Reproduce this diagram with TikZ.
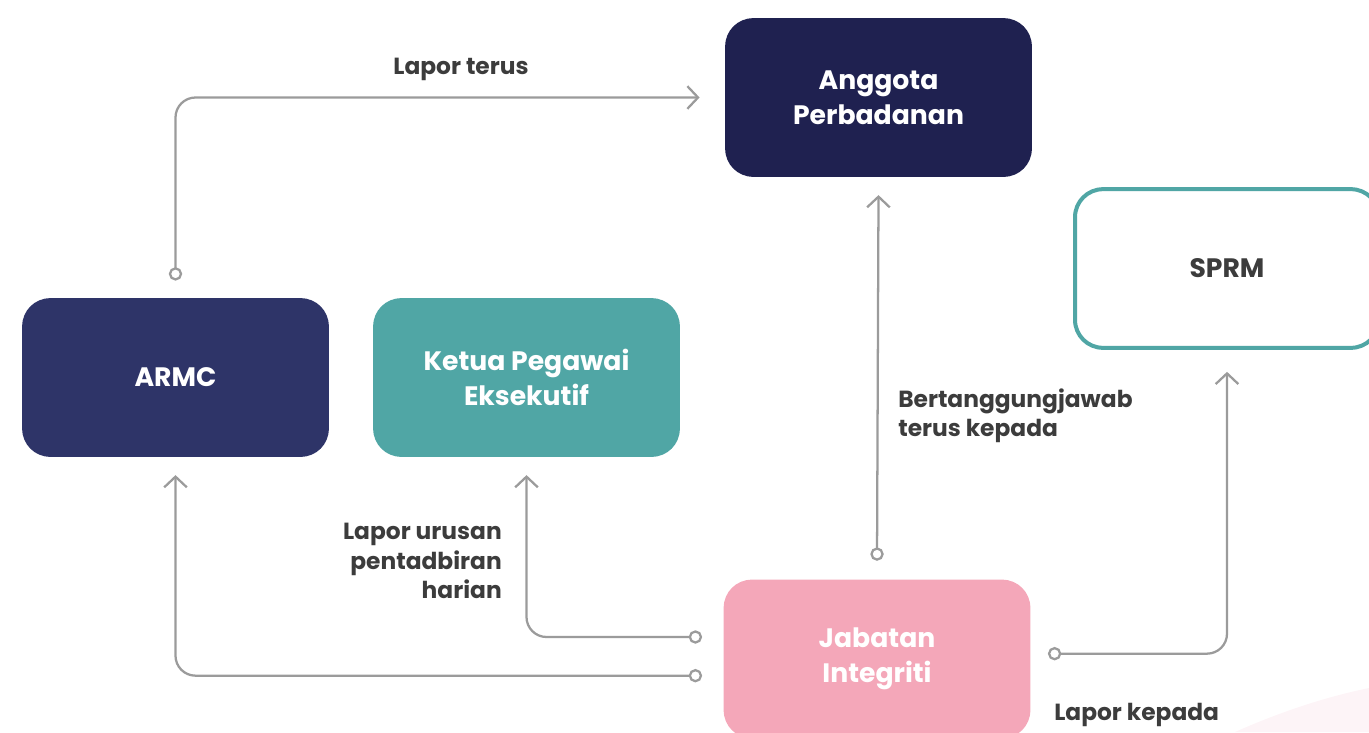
\documentclass[tikz,border=0pt]{standalone}
\usepackage{fontspec}
\setmainfont{Poppins}
\usetikzlibrary{arrows.meta}
\definecolor{navyA}{HTML}{1F2150}
\definecolor{navyB}{HTML}{2E3468}
\definecolor{tealc}{HTML}{50A6A5}
\definecolor{pinkc}{HTML}{F4A7B9}
\definecolor{linegrey}{HTML}{9B9B9B}
\definecolor{labgrey}{HTML}{3C3C3C}
\definecolor{bgpink}{HTML}{FDF4F7}

\begin{document}
\begin{tikzpicture}[x=.75pt,y=-.75pt,
 box/.style={rounded corners=21pt,minimum width=230pt,minimum height=119pt,align=center,text=white,font=\fontsize{20}{26.5}\selectfont\bfseries},
 link/.style={draw=linegrey,line width=1.7pt,rounded corners=15pt,{Circle[open,length=10pt,width=10pt]}-{Straight Barb[length=8pt,width=17pt]}},
 lab/.style={text=labgrey,font=\fontsize{17.5}{22}\selectfont\bfseries,inner sep=0pt}]
\useasboundingbox (0,0) rectangle (1369,732);
\fill[bgpink] (1235,732) .. controls (1280,712) and (1325,697) .. (1369,688) -- (1369,732) -- cycle;
% boxes
\node[box,fill=navyA] (anggota) at (878.5,97.5) {Anggota\\Perbadanan};
\node[box,fill=navyB] (armc) at (175.5,377.5) {ARMC};
\node[box,fill=tealc] (ketua) at (526.5,377.5) {Ketua Pegawai\\Eksekutif};
\node[box,fill=pinkc] (jabatan) at (877,659) {Jabatan\\Integriti};
\node[box,draw=tealc,line width=3pt,fill=white,text=labgrey,minimum width=228pt] (sprm) at (1227,268.5) {SPRM};
% connectors
\draw[link] ([yshift=13pt]armc.north) |- ([xshift=-19pt]anggota.west);
\draw[link] ([yshift=14pt]jabatan.north) -- ([yshift=-13.5pt]anggota.south);
\draw[link] ([xshift=-16pt,yshift=16.5pt]jabatan.west) -| ([yshift=-13.5pt]ketua.south);
\draw[link] ([xshift=-16pt,yshift=-12.5pt]jabatan.west) -| ([yshift=-13.5pt]armc.south);
\draw[link] ([xshift=13pt,yshift=4pt]jabatan.east) -| ([yshift=-16.5pt]sprm.south);
% labels
\node[lab] (lterus) at (461,69) {Lapor terus};
\node[lab,anchor=west,align=left] (ltanggung) at (898,416) {Bertanggungjawab\\terus kepada};
\node[lab,anchor=east,align=right] (lurusan) at (502,561) {Lapor urusan\\pentadbiran\\harian};
\node[lab,anchor=west] (lkepada) at (1054,715) {Lapor kepada};
\end{tikzpicture}
\end{document}
